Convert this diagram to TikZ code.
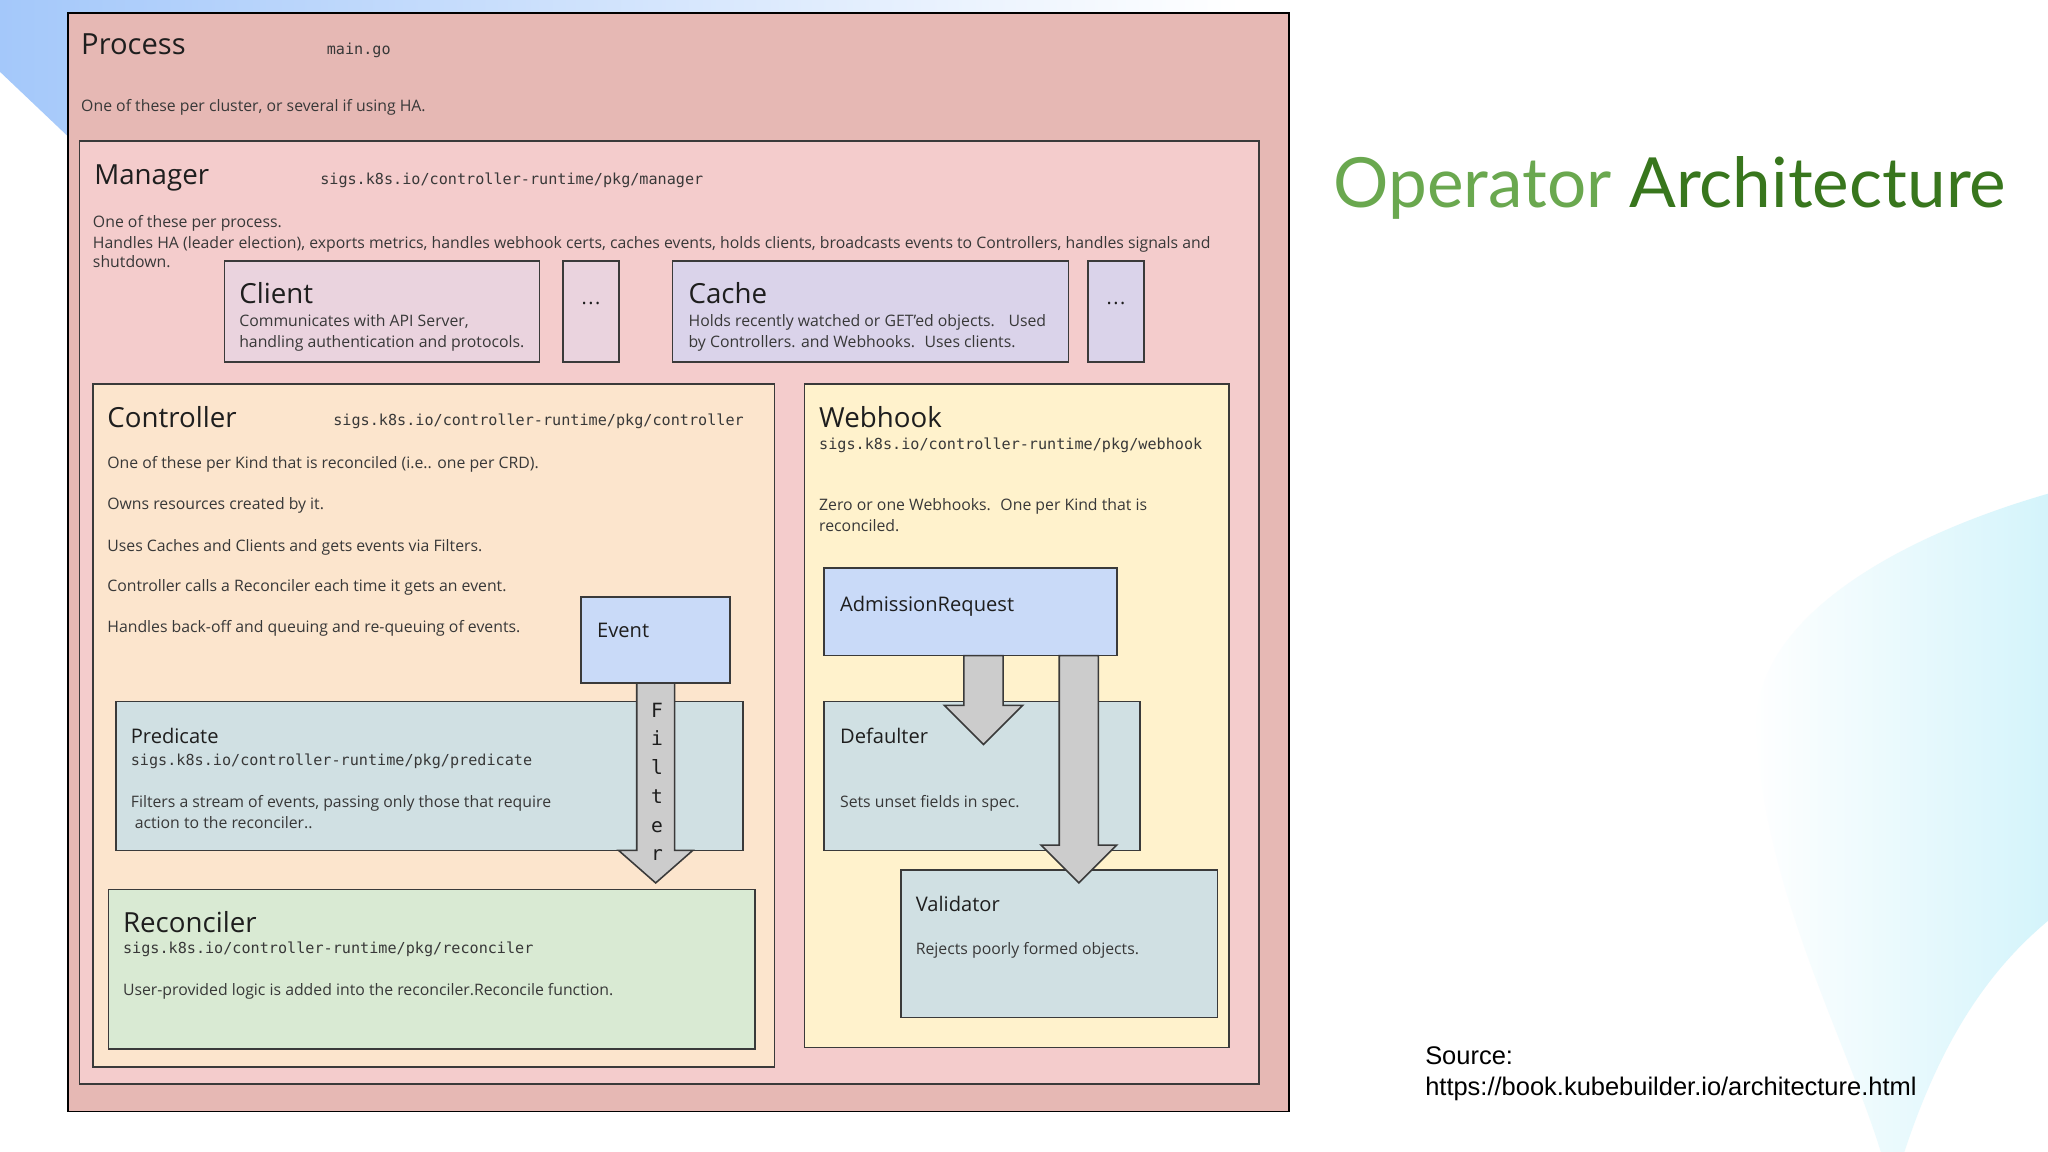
\documentclass[tikz,border=0pt]{standalone}
\usepackage{fontspec}
\setmainfont{Open Sans}
\setmonofont{DejaVu Sans Mono}
\newfontfamily\arialf{Liberation Sans}
\newfontfamily\latof{Lato}
\usetikzlibrary{calc}
\definecolor{procc}{HTML}{E6B8B4}
\definecolor{manc}{HTML}{F4CCCC}
\definecolor{clic}{HTML}{EAD3DE}
\definecolor{cachc}{HTML}{DAD3EA}
\definecolor{ctrlc}{HTML}{FCE5CD}
\definecolor{webc}{HTML}{FFF2CC}
\definecolor{evc}{HTML}{C9DAF8}
\definecolor{predc}{HTML}{D0E0E3}
\definecolor{recc}{HTML}{D9EAD3}
\definecolor{arrc}{HTML}{CCCCCC}
\definecolor{bordc}{HTML}{3A3A3A}
\definecolor{txtc}{HTML}{1E1E1E}
\definecolor{smallc}{HTML}{383838}
\definecolor{greenl}{HTML}{6AA84F}
\definecolor{greend}{HTML}{38761D}
\definecolor{bluebg}{HTML}{A4C8FA}
\definecolor{cyanbg}{HTML}{D4F4FB}
\begin{document}
\begin{tikzpicture}[x=1pt,y=-1pt,
  box/.style={draw=bordc, line width=1.2pt, anchor=north west, inner sep=0pt, outer sep=0pt},
  ttl/.style={anchor=base west, inner sep=0pt, text=txtc, font=\fontsize{21.2}{25}\selectfont},
  sub/.style={anchor=base west, inner sep=0pt, text=txtc, font=\fontsize{15.4}{18}\selectfont},
  small/.style={anchor=base west, inner sep=0pt, text=smallc, font=\fontsize{12.1}{14}\selectfont},
  code/.style={anchor=base west, inner sep=0pt, text=smallc, font=\ttfamily\fontsize{11.6}{14}\selectfont},
  dots/.style={anchor=base, inner sep=0pt, text=txtc, font=\fontsize{15}{17}\selectfont},
  blockarrow/.style={fill=arrc, draw=bordc, line width=1.2pt, line join=miter}
]
\useasboundingbox (0,0) rectangle (1568,882);
\fill[white] (0,0) rectangle (1568,882);
% background decorations
\shade[left color=bluebg, right color=white] (0,0) -- (950,0) -- (950,12) -- (60,12) -- (60,112) -- (0,55) -- cycle;
\shade[left color=white, right color=cyanbg] (1568,378) .. controls (1440,415) and (1340,480) .. (1345,560) .. controls (1350,680) and (1415,800) .. (1440,882) -- (1458,882) .. controls (1485,800) and (1520,745) .. (1568,705) -- cycle;

% Process
\node[box, draw=black, fill=procc, minimum width=935pt, minimum height=841pt] (process) at (52,10) {};
\node[ttl, font=\fontsize{22.3}{26}\selectfont] (tprocess) at (62,42) {Process};
\node[code] (cprocess) at (250,42) {main.go};
\node[small] (dprocess) at (62,85) {One of these per cluster, or several if using HA.};

% Manager
\node[box, fill=manc, minimum width=903pt, minimum height=722pt] (manager) at (61,108) {};
\node[ttl] (tmanager) at (72,141) {Manager};
\node[code] (cmanager) at (245,141) {sigs.k8s.io/controller-runtime/pkg/manager};
\node[small] (dmanager1) at (71,174) {One of these per process.};
\node[small] (dmanager2) at (71,190) {Handles HA (leader election), exports metrics, handles webhook certs, caches events, holds clients, broadcasts events to Controllers, handles signals and};
\node[small] (dmanager3) at (71,205) {shutdown.};

% Client / Cache
\node[box, fill=clic, minimum width=241pt, minimum height=77pt] (client) at (172,200) {};
\node[ttl] (tclient) at (183,232) {Client};
\node[small] (dclient1) at (183,250) {Communicates with API Server,};
\node[small] (dclient2) at (183,266) {handling authentication and protocols.};
\node[box, fill=clic, minimum width=43pt, minimum height=77pt] (dots1) at (431,200) {};
\node[dots] (tdots1) at (452.5,233) {.\kern1.2pt.\kern1.2pt.};
\node[box, fill=cachc, minimum width=303pt, minimum height=77pt] (cache) at (515,200) {};
\node[ttl] (tcache) at (527,232) {Cache};
\node[small] (dcache1) at (527,250) {Holds recently watched or GET'ed objects. \ \ Used};
\node[small] (dcache2) at (527,266) {by Controllers. and Webhooks. \ Uses clients.};
\node[box, fill=cachc, minimum width=43pt, minimum height=77pt] (dots2) at (833,200) {};
\node[dots] (tdots2) at (854.5,233) {.\kern1.2pt.\kern1.2pt.};

% Controller
\node[box, fill=ctrlc, minimum width=522pt, minimum height=523pt] (controller) at (71,294) {};
\node[ttl] (tcontroller) at (82,327) {Controller};
\node[code] (ccontroller) at (255,326) {sigs.k8s.io/controller-runtime/pkg/controller};
\node[small] (dctrl1) at (82,359) {One of these per Kind that is reconciled (i.e.. one per CRD).};
\node[small] (dctrl2) at (82,390) {Owns resources created by it.};
\node[small] (dctrl3) at (82,422) {Uses Caches and Clients and gets events via Filters.};
\node[small] (dctrl4) at (82,453) {Controller calls a Reconciler each time it gets an event.};
\node[small] (dctrl5) at (82,484) {Handles back-off and queuing and re-queuing of events.};

\node[box, fill=evc, minimum width=114pt, minimum height=66pt] (event) at (445,457) {};
\node[sub] (tevent) at (457,488) {Event};

\node[box, fill=predc, minimum width=480pt, minimum height=114pt] (predicate) at (89,537) {};
\node[sub] (tpredicate) at (100,569) {Predicate};
\node[code] (cpredicate) at (100,586) {sigs.k8s.io/controller-runtime/pkg/predicate};
\node[small] (dpred1) at (100,618) {Filters a stream of events, passing only those that require};
\node[small] (dpred2) at (103,634) {action to the reconciler..};

\draw[blockarrow] ($(event.south)+(-14.5,0)$) -- ++(0,128) -- ++(-14,0) -- ($(event.south)+(0,153)$) -- ($(event.south)+(28.5,128)$) -- ++(-14,0) -- ($(event.south)+(14.5,0)$) -- cycle;
\node[anchor=north, inner sep=0pt, align=center, text=txtc, font=\ttfamily\fontsize{15}{22}\selectfont] (filtertxt) at ($(event.south)+(1,15)$) {F\\i\\l\\t\\e\\r};

\node[box, fill=recc, minimum width=495pt, minimum height=122pt] (reconciler) at (83,681) {};
\node[ttl] (treconciler) at (94,714) {Reconciler};
\node[code] (creconciler) at (94,730) {sigs.k8s.io/controller-runtime/pkg/reconciler};
\node[small] (drec) at (94,762) {User-provided logic is added into the reconciler.Reconcile function.};

% Webhook
\node[box, fill=webc, minimum width=325pt, minimum height=508pt] (webhook) at (616,294) {};
\node[ttl] (twebhook) at (627,327) {Webhook};
\node[code] (cwebhook) at (627,344) {sigs.k8s.io/controller-runtime/pkg/webhook};
\node[small] (dweb1) at (627,391) {Zero or one Webhooks. \ One per Kind that is};
\node[small] (dweb2) at (627,407) {reconciled.};

\node[box, fill=evc, minimum width=224pt, minimum height=67pt] (admission) at (631,435) {};
\node[sub] (tadmission) at (643,468) {AdmissionRequest};

\node[box, fill=predc, minimum width=242pt, minimum height=114pt] (defaulter) at (631,537) {};
\node[sub] (tdefaulter) at (643,569) {Defaulter};
\node[small] (ddefaulter) at (643,618) {Sets unset fields in spec.};

\draw[blockarrow] ($(admission.south west)+(107,0)$) -- ++(0,38) -- ++(-15,0) -- ($(admission.south west)+(122,68)$) -- ($(admission.south west)+(152,38)$) -- ++(-15,0) -- ($(admission.south west)+(137,0)$) -- cycle;

\node[box, fill=predc, minimum width=242pt, minimum height=113pt] (validator) at (690,666) {};
\node[sub] (tvalidator) at (701,698) {Validator};
\node[small] (dvalidator) at (701,731) {Rejects poorly formed objects.};

\draw[blockarrow] ($(admission.south west)+(180,0)$) -- ++(0,145) -- ++(-14,0) -- ($(admission.south west)+(195,174)$) -- ($(admission.south west)+(224,145)$) -- ++(-14,0) -- ($(admission.south west)+(210,0)$) -- cycle;

% Title and source
\node[anchor=base west, inner sep=0pt, font=\latof\fontsize{53}{62}\selectfont] (title) at (1021,159) {\textcolor{greenl}{Operator} \textcolor{greend}{Architecture}};
\node[anchor=base west, inner sep=0pt, text=black, font=\arialf\fontsize{19.5}{23}\selectfont] (src1) at (1091,815) {Source:};
\node[anchor=base west, inner sep=0pt, text=black, font=\arialf\fontsize{19.5}{23}\selectfont] (src2) at (1091,839) {https://book.kubebuilder.io/architecture.html};
\end{tikzpicture}
\end{document}
